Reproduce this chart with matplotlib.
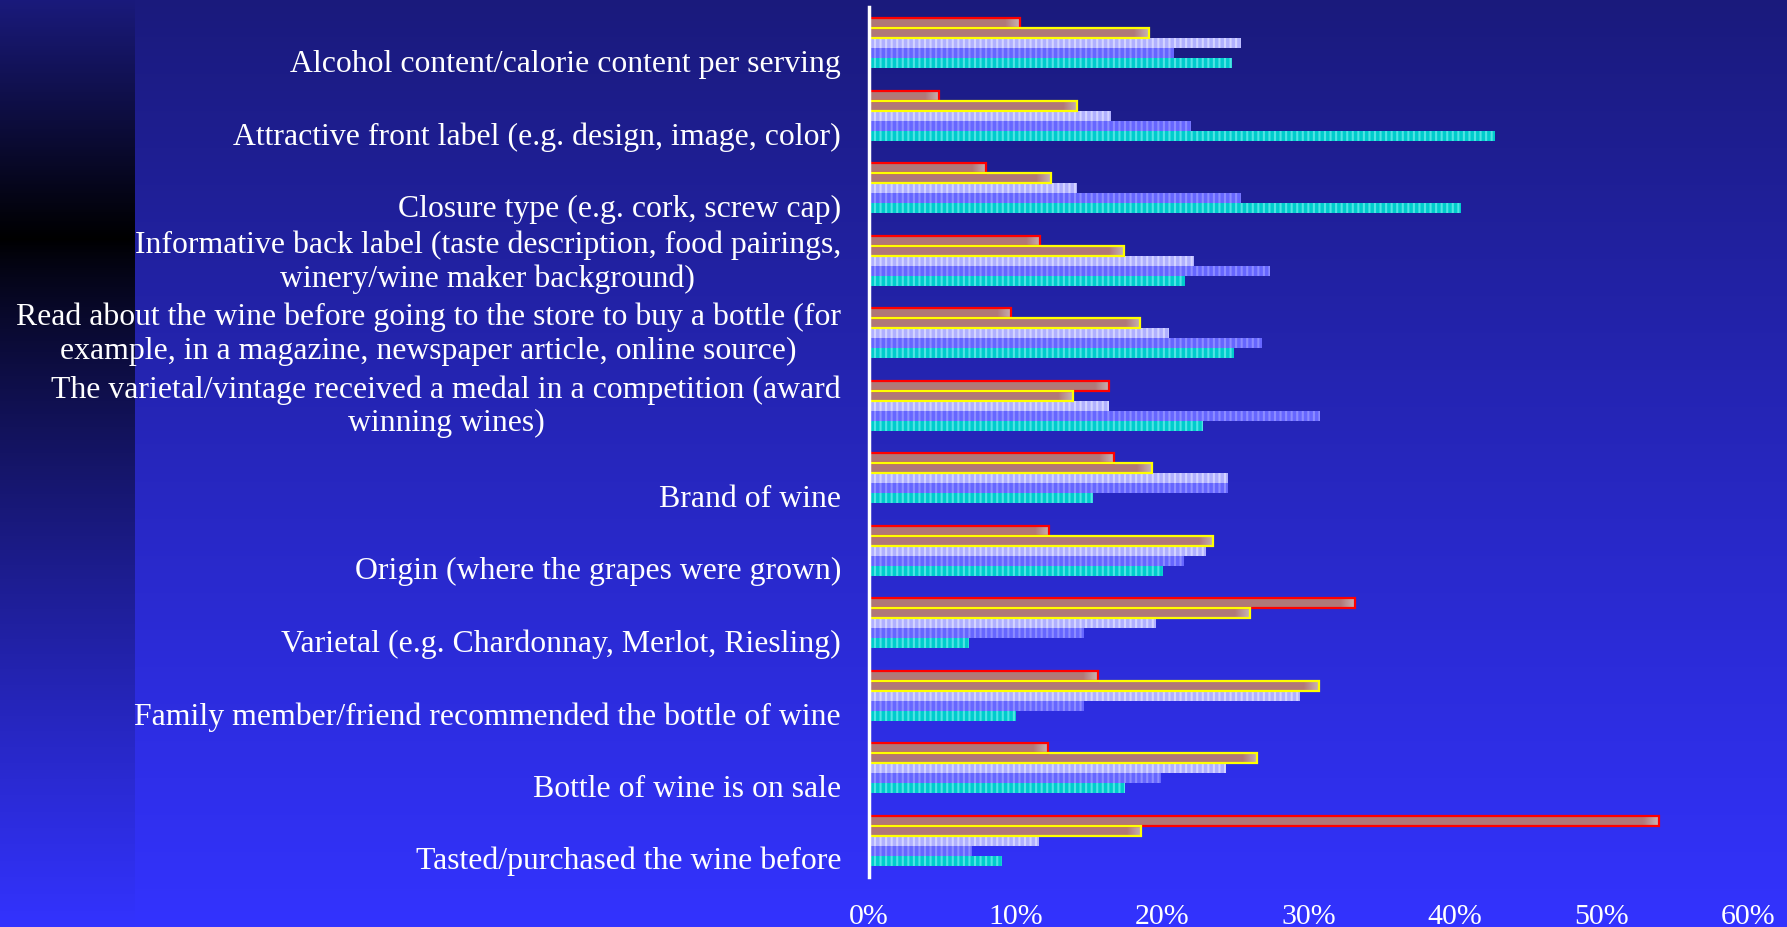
import numpy as np
import matplotlib
matplotlib.use('Agg')
import matplotlib.pyplot as plt
import matplotlib.transforms as mtransforms
import matplotlib.ticker as ticker
from matplotlib.colors import to_rgb

# Motivos de compra (de arriba hacia abajo)
categories = [
    "Alcohol content/calorie content per serving",
    "Attractive front label (e.g. design, image, color)",
    "Closure type (e.g. cork, screw cap)",
    "Informative back label (taste description, food pairings,\nwinery/wine maker background)",
    "Read about the wine before going to the store to buy a bottle (for\nexample, in a magazine, newspaper article, online source)",
    "The varietal/vintage received a medal in a competition (award\nwinning wines)",
    "Brand of wine",
    "Origin (where the grapes were grown)",
    "Varietal (e.g. Chardonnay, Merlot, Riesling)",
    "Family member/friend recommended the bottle of wine",
    "Bottle of wine is on sale",
    "Tasted/purchased the wine before",
]

# Porcentajes por serie
serie_roja = [10.3, 4.8, 8.0, 11.7, 9.7, 16.4, 16.7, 12.3, 33.2, 15.6, 12.2, 53.9]
serie_amarilla = [19.1, 14.2, 12.4, 17.4, 18.5, 13.9, 19.3, 23.5, 26.0, 30.7, 26.5, 18.6]
serie_lavanda = [25.4, 16.5, 14.2, 22.2, 20.5, 16.4, 24.5, 23.0, 19.6, 29.4, 24.4, 11.6]
serie_azul = [20.8, 22.0, 25.4, 27.4, 26.8, 30.8, 24.5, 21.5, 14.7, 14.7, 19.9, 7.0]
serie_cian = [24.8, 42.7, 40.4, 21.6, 24.9, 22.8, 15.3, 20.1, 6.8, 10.0, 17.5, 9.1]

xticks = [0, 10, 20, 30, 40, 50, 60]

W, H, DPI = 1787, 928, 100
fig = plt.figure(figsize=(W / DPI, H / DPI), dpi=DPI)

# --- Fondo degradado (franja izquierda mas oscura) ---
bg_ax = fig.add_axes([0, 0, 1, 1], zorder=-10)
bg_ax.axis('off')
top = np.array(to_rgb('#1a1a7c'))
bottom = np.array(to_rgb('#3333ff'))
t = np.linspace(0, 1, H)[:, None]
bg = np.repeat((top + (bottom - top) * t)[:, None, :], W, axis=1)
strip_w = 135
y_black = 240
yy = np.arange(H)
strip = np.zeros((H, 3))
up = yy <= y_black
strip[up] = top + (np.zeros(3) - top) * (yy[up] / y_black)[:, None]
dn = ~up
f = ((yy[dn] - y_black) / (H - y_black)) ** 0.8
strip[dn] = np.zeros(3) + (bottom - np.zeros(3)) * f[:, None]
bg[:, :strip_w, :] = strip[:, None, :]
bg_ax.imshow(bg, aspect='auto', extent=(0, 1, 0, 1), interpolation='nearest')

# --- Grafico de barras ---
ax = fig.add_axes([869 / W, 1 - 878 / H, (1748 - 869) / W, (878 - 8) / H])
ax.patch.set_alpha(0)

idx = np.arange(len(categories))
h = 0.138
off = (np.arange(5) - 2) * h

lisas = [(serie_roja, '#ff0000'), (serie_amarilla, '#ffff00')]
for k, (vals, edge) in enumerate(lisas):
    ys = idx + off[k]
    ax.barh(ys, vals, height=h, color='#b07878', linewidth=0, zorder=2)
    # brillo suave hacia el extremo de cada barra
    for y, v in zip(ys, vals):
        n = 300
        x = np.linspace(0, v, n)
        a = np.clip((x - (v - 1.0)) / 1.0, 0, 1) * 0.75
        img = np.zeros((1, n, 4))
        img[..., :3] = to_rgb('#d0c8c8')
        img[0, :, 3] = a
        ax.imshow(img, extent=(0, v, y + h / 2, y - h / 2), aspect='auto',
                  zorder=2.5, interpolation='bilinear')
    ax.barh(ys, vals, height=h, fill=False, edgecolor=edge, linewidth=1.6, zorder=3)

plt.rcParams['hatch.linewidth'] = 1.5
rayadas = [(serie_lavanda, '#b0b0ff', '#d4d4ff'),
           (serie_azul, '#6666ff', '#8c8cff'),
           (serie_cian, '#00cccc', '#50e4e4')]
for k, (vals, base, raya) in enumerate(rayadas):
    ys = idx + off[k + 2]
    ax.barh(ys, vals, height=h, color=base, edgecolor=raya, linewidth=0,
            hatch='|||', zorder=2)

ax.set_xlim(0, 60)
ax.set_ylim(len(categories) - 0.5, -0.5)
ax.set_xticks(xticks)
ax.xaxis.set_major_formatter(ticker.FuncFormatter(lambda x, p: f'{x:.0f}%'))
ax.set_yticks([])
ax.tick_params(axis='x', length=0, pad=19, labelcolor='white', labelsize=21.5)
for lbl in ax.get_xticklabels():
    lbl.set_fontfamily('Liberation Serif')
for s in ['top', 'right', 'bottom']:
    ax.spines[s].set_visible(False)
ax.spines['left'].set_color('white')
ax.spines['left'].set_linewidth(2.5)
ax.spines['left'].set_zorder(5)

# Etiquetas de categoria: una linea se baja media linea
trans = mtransforms.blended_transform_factory(ax.transAxes, ax.transData)
for i, lab in enumerate(categories):
    dy = 0 if '\n' in lab else -0.20
    t_off = mtransforms.ScaledTranslation(-28 / DPI, dy, fig.dpi_scale_trans)
    ax.text(0, i, lab, transform=trans + t_off, ha='right', va='center',
            multialignment='center', color='white', fontsize=22.9,
            fontfamily='Liberation Serif', linespacing=1.2)

fig.savefig('out.png', dpi=DPI)
